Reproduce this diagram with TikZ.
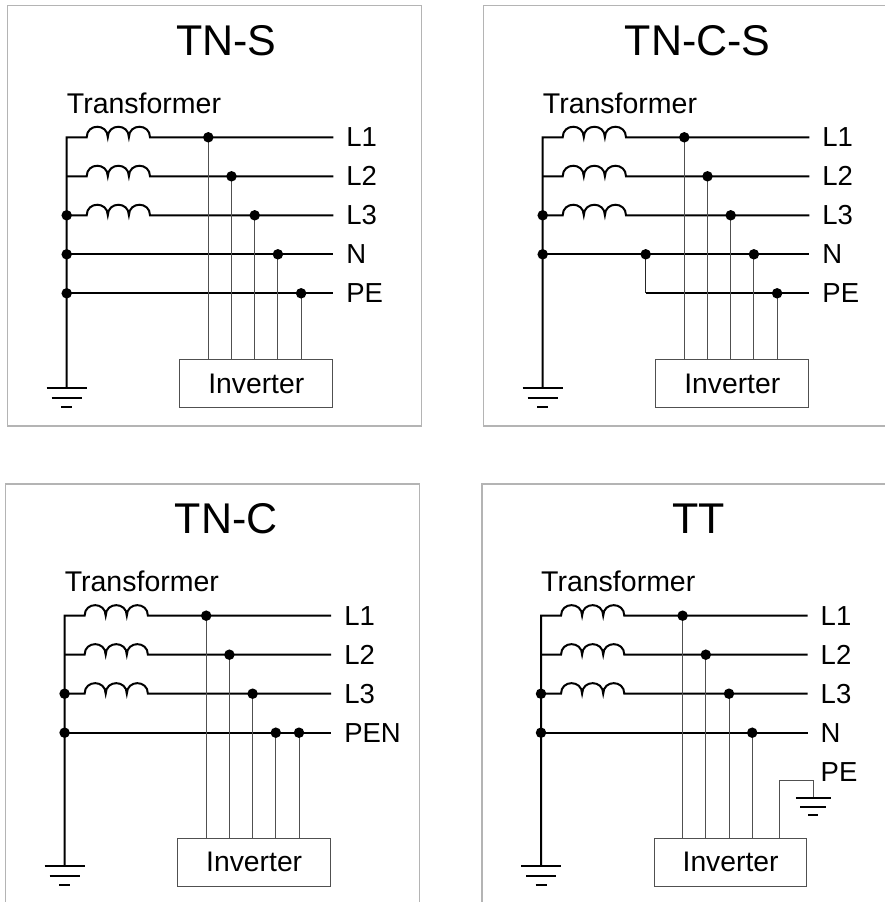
\documentclass[tikz,border=0pt]{standalone}
\usepackage{fontspec}
\setmainfont{Liberation Sans}
\definecolor{framegray}{HTML}{B4B4B4}
\definecolor{tapgray}{HTML}{505050}
\tikzset{
  wire/.style={line width=2pt, black, line join=miter},
  tapw/.style={line width=1pt, tapgray},
  frm/.style={line width=1.3pt, framegray},
  jdot/.style={circle, fill=black, draw=none, inner sep=0pt, minimum size=10.5pt},
  ttl/.style={font=\fontsize{43}{48}\selectfont, anchor=base, inner sep=0pt},
  trl/.style={font=\fontsize{28.5}{32}\selectfont, anchor=base west, inner sep=0pt},
  lbl/.style={font=\fontsize{27.5}{30}\selectfont, anchor=west, inner sep=0pt},
  invbox/.style={draw=tapgray, line width=1pt, minimum width=152.7pt, minimum height=47.7pt,
     inner sep=0pt, font=\fontsize{28.3}{32}\selectfont},
  gndw/.style={line width=2pt, black},
  sgndw/.style={line width=1.6pt, black}
}
% #1 prefix, #2 title, #3 title x
\newcommand{\PanelBase}[3]{%
  \draw[frm] (-59,-131.6) rectangle (355,288.7);
  \node[ttl] (#1title) at (#3,-82.3) {#2};
  \node[trl] (#1trans) at (0,-24) {Transformer};
  \coordinate (#1top) at (0,0);
  \coordinate (#1gnd) at (0,250.7);
  \foreach \yy/\nn in {0/1,39/2,78/3}{
    \coordinate (#1b\nn) at (0,\yy);
    \coordinate (#1e\nn) at (266.6,\yy);
  }
  \draw[wire] (#1e1) -- (83.3,0)
     .. controls (83.3,-14.07) and (62.2,-14.07) .. (62.2,0)
     .. controls (62.2,-14.07) and (41.1,-14.07) .. (41.1,0)
     .. controls (41.1,-14.07) and (20,-14.07) .. (20,0) -- (#1b1) -- (#1gnd);
  \foreach \yy/\nn in {39/2,78/3}{
    \draw[wire] (#1b\nn) -- (20,\yy)
     .. controls (20,\yy-14.07) and (41.1,\yy-14.07) .. (41.1,\yy)
     .. controls (41.1,\yy-14.07) and (62.2,\yy-14.07) .. (62.2,\yy)
     .. controls (62.2,\yy-14.07) and (83.3,\yy-14.07) .. (83.3,\yy) -- (#1e\nn);
  }
  \coordinate (#1g1a) at (-20,250.7); \coordinate (#1g1b) at (20,250.7);
  \coordinate (#1g2a) at (-15,260.4); \coordinate (#1g2b) at (15,260.4);
  \coordinate (#1g3a) at (-5.5,269.7); \coordinate (#1g3b) at (5.5,269.7);
  \draw[gndw] (#1g1a) -- (#1g1b);
  \draw[gndw] (#1g2a) -- (#1g2b);
  \draw[gndw] (#1g3a) -- (#1g3b);
  \node[lbl] (#1l1) at (279.5,0) {L1};
  \node[lbl] (#1l2) at (279.5,39) {L2};
  \node[lbl] (#1l3) at (279.5,78) {L3};
  \node[invbox] (#1inv) at (189.6,246.5) {Inverter};
}
\begin{document}
\begin{tikzpicture}[x=1pt,y=-1pt]
\useasboundingbox (0,0) rectangle (885,902);
\clip (0,0) rectangle (885,902);
\fill[white] (0,0) rectangle (885,902);

% ---------------- TN-S ----------------
\begin{scope}[shift={(66.7,137.3)}]
  \PanelBase{a}{TN-S}{159.6}
  \coordinate (ab4) at (0,117); \coordinate (ae4) at (266.6,117);
  \coordinate (ab5) at (0,156); \coordinate (ae5) at (266.6,156);
  \draw[wire] (ab4) -- (ae4);
  \draw[wire] (ab5) -- (ae5);
  \node[lbl] (al4) at (279.5,117) {N};
  \node[lbl] (al5) at (279.5,156) {PE};
  \coordinate (at1) at (141.6,0);
  \coordinate (at2) at (164.8,39);
  \coordinate (at3) at (188,78);
  \coordinate (at4) at (211.2,117);
  \coordinate (at5) at (234.4,156);
  \foreach \i in {1,...,5}{\draw[tapw] (at\i) -- (at\i |- ainv.north);}
  \foreach \i in {1,...,5}{\node[jdot] (ad\i) at (at\i) {};}
  \node[jdot] (aj3) at (ab3) {};
  \node[jdot] (aj4) at (ab4) {};
  \node[jdot] (aj5) at (ab5) {};
\end{scope}

% ---------------- TN-C-S ----------------
\begin{scope}[shift={(542.7,137.3)}]
  \PanelBase{b}{TN-C-S}{155}
  \coordinate (bb4) at (0,117); \coordinate (be4) at (266.6,117);
  \coordinate (bs4) at (103,117); \coordinate (bs5) at (103,156);
  \coordinate (be5) at (266.6,156);
  \draw[wire] (bb4) -- (be4);
  \draw[wire] (bs5) -- (be5);
  \draw[line width=1.3pt, black!85] (bs4) -- (bs5);
  \node[lbl] (bl4) at (279.5,117) {N};
  \node[lbl] (bl5) at (279.5,156) {PE};
  \coordinate (bt1) at (141.6,0);
  \coordinate (bt2) at (164.8,39);
  \coordinate (bt3) at (188,78);
  \coordinate (bt4) at (211.2,117);
  \coordinate (bt5) at (234.4,156);
  \foreach \i in {1,...,5}{\draw[tapw] (bt\i) -- (bt\i |- binv.north);}
  \foreach \i in {1,...,5}{\node[jdot] (bd\i) at (bt\i) {};}
  \node[jdot] (bsd) at (bs4) {};
  \node[jdot] (bj3) at (bb3) {};
  \node[jdot] (bj4) at (bb4) {};
\end{scope}

% ---------------- TN-C ----------------
\begin{scope}[shift={(64.6,615.7)}]
  \PanelBase{c}{TN-C}{161.7}
  \coordinate (cb4) at (0,117); \coordinate (ce4) at (266.6,117);
  \draw[wire] (cb4) -- (ce4);
  \node[lbl] (cl4) at (279.5,117) {PEN};
  \coordinate (ct1) at (141.6,0);
  \coordinate (ct2) at (164.8,39);
  \coordinate (ct3) at (188,78);
  \coordinate (ct4) at (211.2,117);
  \coordinate (ct5) at (234.4,117);
  \foreach \i in {1,...,5}{\draw[tapw] (ct\i) -- (ct\i |- cinv.north);}
  \foreach \i in {1,...,5}{\node[jdot] (cd\i) at (ct\i) {};}
  \node[jdot] (cj3) at (cb3) {};
  \node[jdot] (cj4) at (cb4) {};
\end{scope}

% ---------------- TT ----------------
\begin{scope}[shift={(541,615.7)}]
  \PanelBase{d}{TT}{157.7}
  \coordinate (db4) at (0,117); \coordinate (de4) at (266.6,117);
  \draw[wire] (db4) -- (de4);
  \node[lbl] (dl4) at (279.5,117) {N};
  \node[lbl] (dl5) at (279.5,156) {PE};
  \coordinate (dt1) at (141.6,0);
  \coordinate (dt2) at (164.8,39);
  \coordinate (dt3) at (188,78);
  \coordinate (dt4) at (211.2,117);
  \foreach \i in {1,...,4}{\draw[tapw] (dt\i) -- (dt\i |- dinv.north);}
  \coordinate (dpe) at (238.2,164.6);
  \coordinate (dpg) at (272.2,182);
  \draw[tapw] (dpe |- dinv.north) -- (dpe) -| (dpg);
  \coordinate (dh1a) at (254.9,182); \coordinate (dh1b) at (289.5,182);
  \coordinate (dh2a) at (259.2,191); \coordinate (dh2b) at (285.2,191);
  \coordinate (dh3a) at (267.2,199.3); \coordinate (dh3b) at (277.2,199.3);
  \draw[sgndw] (dh1a) -- (dh1b);
  \draw[sgndw] (dh2a) -- (dh2b);
  \draw[sgndw] (dh3a) -- (dh3b);
  \foreach \i in {1,...,4}{\node[jdot] (dd\i) at (dt\i) {};}
  \node[jdot] (dj3) at (db3) {};
  \node[jdot] (dj4) at (db4) {};
\end{scope}
\end{tikzpicture}
\end{document}
